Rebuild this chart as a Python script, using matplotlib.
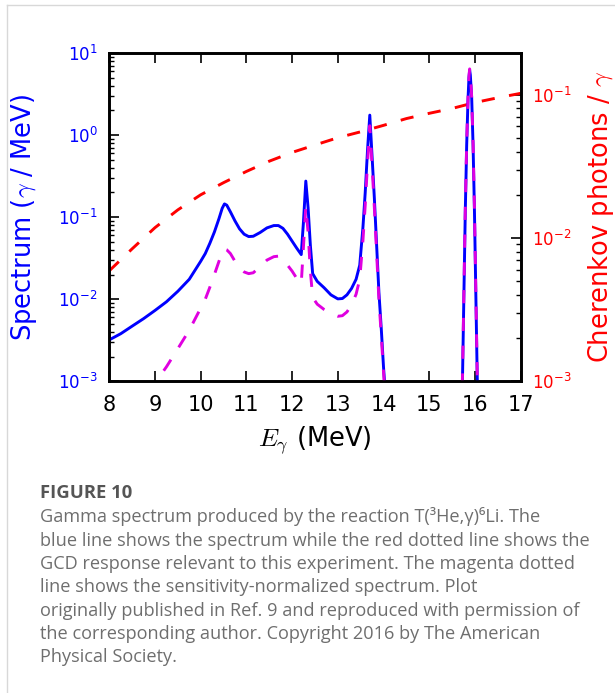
import matplotlib
matplotlib.use("Agg")
import matplotlib.pyplot as plt
from matplotlib.lines import Line2D
from matplotlib.ticker import LogLocator, NullFormatter

# ---- data -------------------------------------------------------------
# Gamma spectrum (gamma / MeV) versus photon energy (MeV)
energy = [8.0, 8.25, 8.5, 8.75, 9.0, 9.25, 9.5, 9.75, 10.0, 10.1, 10.2, 10.3,
          10.4, 10.47, 10.52, 10.57, 10.65, 10.75, 10.85, 10.95, 11.05, 11.15,
          11.3, 11.45, 11.6, 11.7, 11.8, 11.9, 12.0, 12.1, 12.2, 12.25, 12.3,
          12.35, 12.4, 12.45, 12.55, 12.7, 12.85, 13.0, 13.1, 13.2, 13.3, 13.4,
          13.48, 13.55, 13.6, 13.65, 13.7, 13.75, 13.8, 13.85, 13.9, 13.95,
          14.0, 14.05, 14.1, 15.70, 15.73, 15.76, 15.79, 15.82, 15.85, 15.87,
          15.885, 15.90, 15.93, 15.96, 15.99, 16.02, 16.05, 16.08, 17.0]

spectrum = [0.0032, 0.0038, 0.0047, 0.0058, 0.0073, 0.0093, 0.0125, 0.0175,
            0.029, 0.036, 0.048, 0.066, 0.096, 0.128, 0.145, 0.140, 0.116,
            0.090, 0.072, 0.062, 0.058, 0.0585, 0.065, 0.074, 0.079, 0.079,
            0.073, 0.062, 0.051, 0.042, 0.035, 0.090, 0.275, 0.130, 0.045,
            0.0205, 0.0165, 0.0138, 0.0113, 0.0101, 0.0102, 0.0113, 0.0135,
            0.0175, 0.026, 0.075, 0.20, 0.65, 1.75, 0.55, 0.17, 0.045, 0.012,
            0.0045, 0.0015, 0.0006, 0.0002, 0.0002, 0.0012, 0.012, 0.12, 0.75,
            2.8, 5.0, 6.2, 5.4, 2.8, 0.75, 0.12, 0.012, 0.0012, 0.0002, 0.0002]

# Sensitivity-normalized spectrum on the same energy grid
normalized = [0.00023, 0.00032, 0.00045, 0.00066, 0.00095, 0.0015, 0.0025,
              0.0042, 0.0078, 0.010, 0.014, 0.020, 0.029, 0.037, 0.041, 0.040,
              0.036, 0.029, 0.024, 0.0215, 0.0205, 0.021, 0.025, 0.030, 0.033,
              0.0335, 0.031, 0.026, 0.022, 0.018, 0.0155, 0.045, 0.135, 0.065,
              0.022, 0.0105, 0.0087, 0.0075, 0.0067, 0.0062, 0.0063, 0.0070,
              0.0085, 0.0115, 0.0175, 0.052, 0.14, 0.45, 1.3, 0.42, 0.13, 0.036,
              0.0098, 0.0037, 0.0013, 0.0005, 0.0002, 0.0002, 0.0013, 0.013,
              0.13, 0.80, 2.9, 5.2, 6.4, 5.6, 2.9, 0.80, 0.13, 0.013, 0.0013,
              0.0002, 0.0002]

# GCD response: Cherenkov photons per gamma
response_energy = [8.0, 8.5, 9.0, 9.5, 10.0, 10.5, 11.0, 11.5, 12.0, 12.5,
                   13.0, 13.5, 14.0, 14.5, 15.0, 15.5, 16.0, 16.5, 17.0]
response = [0.0059, 0.0084, 0.0118, 0.0157, 0.0200, 0.0243, 0.0291, 0.0343,
            0.0395, 0.0445, 0.0500, 0.0550, 0.0610, 0.0680, 0.0740, 0.0800,
            0.0880, 0.0950, 0.1020]

x_ticks = [8, 9, 10, 11, 12, 13, 14, 15, 16, 17]

caption_title = "FIGURE 10"
caption_lines = [
    "Gamma spectrum produced by the reaction T(\u00b3He,\u03b3)\u2076Li. The",
    "blue line shows the spectrum while the red dotted line shows the",
    "GCD response relevant to this experiment. The magenta dotted",
    "line shows the sensitivity-normalized spectrum. Plot",
    "originally published in Ref. 9 and reproduced with permission of",
    "the corresponding author. Copyright 2016 by The American",
    "Physical Society.",
]

# ---- style ------------------------------------------------------------
plt.rcParams["font.family"] = ["DejaVu Sans"]
plt.rcParams["mathtext.fontset"] = "cm"
plt.rcParams["axes.unicode_minus"] = False
plt.rcParams["lines.scale_dashes"] = False

W, H = 615, 693
fig = plt.figure(figsize=(W / 100, H / 100), dpi=100)
fig.patch.set_facecolor("white")

left, right, top, bottom = 109.3, 520.6, 53.0, 381.3
ax = fig.add_axes([left / W, 1 - bottom / H, (right - left) / W, (bottom - top) / H])
ax2 = ax.twinx()
# keep the spectrum curves above the response curve
ax.set_zorder(ax2.get_zorder() + 1)
ax.patch.set_visible(False)

dash = (0, (9.5, 10.5))
ax2.plot(response_energy, response, color="red", lw=2.1, linestyle=dash,
         dash_capstyle="butt")
ax.plot(energy, spectrum, color="blue", lw=2.1, solid_joinstyle="round")
ax.plot(energy, normalized, color="#e000e0", lw=2.1, linestyle=dash,
        dash_capstyle="butt")

ax.set_xlim(8, 17)
ax.set_yscale("log")
ax.set_ylim(1e-3, 1e1)
ax2.set_yscale("log")
ax2.set_ylim(1e-3, 0.195)

ax.set_xticks(x_ticks)
ax.set_xticklabels([str(t) for t in x_ticks])

for a in (ax, ax2):
    for s in a.spines.values():
        s.set_linewidth(1.9)
        s.set_color("black")

ax.tick_params(axis="x", which="major", direction="in", top=True, bottom=True,
               length=7, width=1.2, labelsize=15, pad=10, labelcolor="black")
ax.tick_params(axis="x", which="minor", top=False, bottom=False)
ax.tick_params(axis="y", which="major", direction="in", left=True, right=False,
               length=7, width=1.2, labelsize=12, pad=8.5, labelcolor="blue")
ax.tick_params(axis="y", which="minor", direction="in", left=True, right=False,
               length=3.5, width=1.0)
ax.yaxis.set_major_locator(LogLocator(base=10, numticks=10))
ax.yaxis.set_minor_locator(LogLocator(base=10, subs=range(2, 10), numticks=20))
ax.yaxis.set_minor_formatter(NullFormatter())

ax2.tick_params(axis="y", which="major", direction="in", right=True, left=False,
                length=7, width=1.2, labelsize=12, pad=8, labelcolor="red")
ax2.tick_params(axis="y", which="minor", direction="in", right=True, left=False,
                length=3.5, width=1.0)
ax2.yaxis.set_major_locator(LogLocator(base=10, numticks=10))
ax2.yaxis.set_minor_locator(LogLocator(base=10, subs=range(2, 10), numticks=20))
ax2.yaxis.set_minor_formatter(NullFormatter())

ax.set_xlabel(r"$E_\gamma$ (MeV)", fontsize=18.5, va="baseline")
ax.xaxis.set_label_coords(0.5, (bottom - 446) / (bottom - top))
ax.set_ylabel(r"Spectrum ($\gamma$ / MeV)", fontsize=18.5, color="blue",
              va="center", ha="center")
ax.yaxis.set_label_coords((24 - left) / (right - left), 0.5)
ax2.set_ylabel(r"Cherenkov photons / $\gamma$", fontsize=18.5, color="red",
               rotation=90, va="center", ha="center")
ax2.yaxis.set_label_coords((601 - left) / (right - left), 0.5)

# ---- caption card -----------------------------------------------------
border = "#d8d8d8"
fig.add_artist(Line2D([7 / W, 7 / W], [0, 1 - 5 / H], color=border, lw=1.0,
                      transform=fig.transFigure))
fig.add_artist(Line2D([7 / W, 1], [1 - 5 / H, 1 - 5 / H], color=border, lw=1.0,
                      transform=fig.transFigure))

cap_family = ["Open Sans", "DejaVu Sans"]
title_txt = fig.text(40 / W, 1 - 498 / H, caption_title, fontsize=13.0,
                     fontweight="bold", color="#555555", family=cap_family,
                     va="baseline")
y0, step = 522.5, 23.3
body = []
for i, line in enumerate(caption_lines):
    body.append(fig.text(40 / W, 1 - (y0 + i * step) / H, line, fontsize=11.8,
                         color="#6e6e6e", family=cap_family, va="baseline"))

# size the caption so the longest line spans the card's text column
renderer = fig.canvas.get_renderer()
span = body[1].get_window_extent(renderer).width
scale = 548.0 / span
for t in body:
    t.set_fontsize(11.8 * scale)
tspan = title_txt.get_window_extent(renderer).width
title_txt.set_fontsize(13.0 * 92.0 / tspan)

fig.savefig("out.png", dpi=100)
